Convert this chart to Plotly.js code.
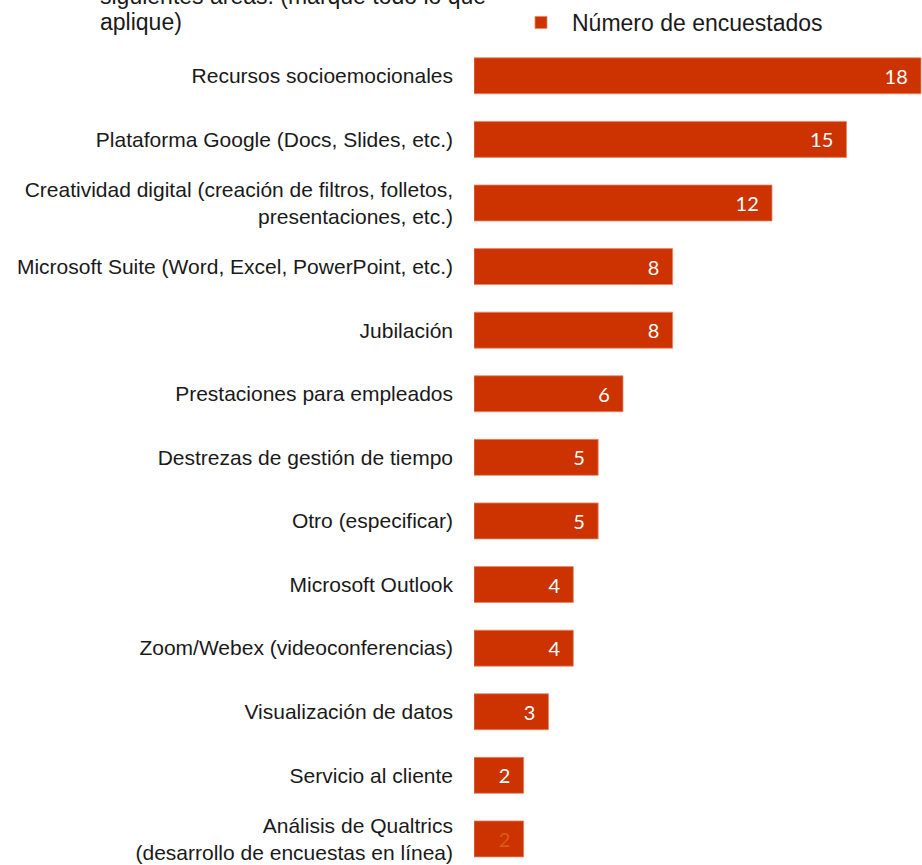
<!DOCTYPE html>
<html>
<head>
<meta charset="utf-8">
<script src="https://cdn.plot.ly/plotly-3.0.1.min.js"></script>
<style>html,body{margin:0;padding:0;background:#fff;}</style>
</head>
<body>
<div id="chart" style="width:922px;height:865px;"></div>
<script>
const categories = [
  "Recursos socioemocionales",
  "Plataforma Google (Docs, Slides, etc.)",
  "Creatividad digital (creación de filtros, folletos,<br>presentaciones, etc.)",
  "Microsoft Suite (Word, Excel, PowerPoint, etc.)",
  "Jubilación",
  "Prestaciones para empleados",
  "Destrezas de gestión de tiempo",
  "Otro (especificar)",
  "Microsoft Outlook",
  "Zoom/Webex (videoconferencias)",
  "Visualización de datos",
  "Servicio al cliente",
  "Análisis de Qualtrics<br>(desarrollo de encuestas en línea)"
];
const values = [18, 15, 12, 8, 8, 6, 5, 5, 4, 4, 3, 2, 2];
const seriesName = "Número de encuestados";
const titleLines = ["siguientes áreas: (marque todo lo que", "aplique)"];

const labelColors = values.map((v, i) => i === values.length - 1 ? "#dc5a14" : "#ffffff");

const trace = {
  type: "bar",
  orientation: "h",
  name: seriesName,
  y: categories,
  x: values,
  marker: { color: "#CC3300", line: { color: "#e8866a", width: 0.8 } },
  texttemplate: "%{x}\u00a0\u00a0",
  textposition: "inside",
  insidetextanchor: "end",
  constraintext: "none",
  textfont: { family: "Lato, 'Open Sans', sans-serif", size: 20, color: labelColors },
  hoverinfo: "skip",
  showlegend: true
};

const plotTop = 44, plotH = 865 - 44, plotL = 474, plotW = 922 - 474;
const pxX = px => (px - plotL) / plotW;
const pxY = py => (865 - py) / plotH;

const titleFont = { family: "'Liberation Sans', Arial, sans-serif", size: 23, color: "#1a1a1a" };

const layout = {
  width: 922,
  height: 865,
  margin: { l: plotL, r: 0, t: plotTop, b: 0, pad: 0 },
  paper_bgcolor: "#ffffff",
  plot_bgcolor: "#ffffff",
  font: { family: "'Liberation Sans', Arial, sans-serif", color: "#1a1a1a" },
  bargap: 0.434,
  xaxis: {
    range: [0, 18.04],
    visible: false,
    showgrid: false,
    zeroline: false,
    fixedrange: true
  },
  yaxis: {
    type: "category",
    range: [12.41, -0.5],
    showgrid: false,
    zeroline: false,
    showline: false,
    ticks: "",
    ticklabelstandoff: 20,
    tickfont: { family: "'Liberation Sans', Arial, sans-serif", size: 21, color: "#1a1a1a" },
    fixedrange: true
  },
  annotations: [
    { text: titleLines[0], xref: "paper", yref: "paper", x: pxX(98), y: pxY(-4),
      xanchor: "left", yanchor: "middle", showarrow: false, font: titleFont, align: "left" },
    { text: titleLines[1], xref: "paper", yref: "paper", x: pxX(98), y: pxY(22),
      xanchor: "left", yanchor: "middle", showarrow: false, font: titleFont, align: "left" }
  ],
  showlegend: true,
  legend: {
    x: pxX(510), xanchor: "left",
    y: pxY(22.5), yanchor: "middle",
    itemwidth: 52,
    bgcolor: "rgba(0,0,0,0)",
    borderwidth: 0,
    font: titleFont
  }
};

Plotly.newPlot("chart", [trace], layout, { displayModeBar: false, staticPlot: true });
</script>
</body>
</html>
